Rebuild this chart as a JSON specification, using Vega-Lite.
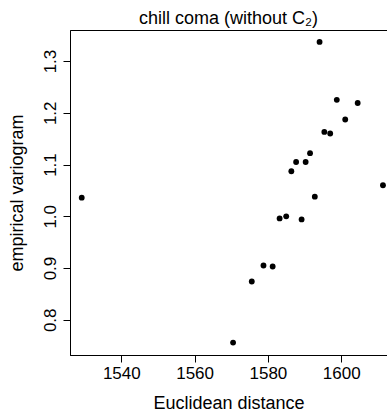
{
  "$schema": "https://vega.github.io/schema/vega-lite/v6.json",
  "width": 317,
  "height": 325,
  "autosize": {"type": "none"},
  "padding": {"left": 70, "top": 30, "right": 0, "bottom": 61},
  "background": "white",
  "config": {
    "view": {"stroke": "#000000", "strokeWidth": 1},
    "font": "Liberation Sans, DejaVu Sans",
    "axis": {
      "grid": false,
      "domainColor": "#000000",
      "domainWidth": 1,
      "tickColor": "#000000",
      "tickWidth": 1,
      "tickSize": 7,
      "labelColor": "#000000",
      "titleColor": "#000000",
      "labelFont": "Liberation Sans",
      "titleFont": "Liberation Sans",
      "labelFontSize": 17,
      "titleFontSize": 18,
      "titleFontWeight": "normal"
    }
  },
  "title": {
    "text": "chill coma (without C₂)",
    "font": "Liberation Sans, DejaVu Sans",
    "fontSize": 18,
    "fontWeight": "normal",
    "color": "#000000",
    "anchor": "middle",
    "baseline": "top",
    "offset": 2
  },
  "data": {
    "values": [
      {"distance": 1529.2, "variogram": 1.036},
      {"distance": 1570.5, "variogram": 0.756},
      {"distance": 1575.6, "variogram": 0.874},
      {"distance": 1578.8, "variogram": 0.905},
      {"distance": 1581.3, "variogram": 0.903},
      {"distance": 1583.2, "variogram": 0.996},
      {"distance": 1585.0, "variogram": 1.0},
      {"distance": 1586.4, "variogram": 1.087},
      {"distance": 1587.7, "variogram": 1.105},
      {"distance": 1589.2, "variogram": 0.994},
      {"distance": 1590.3, "variogram": 1.105},
      {"distance": 1591.5, "variogram": 1.122},
      {"distance": 1592.8, "variogram": 1.038},
      {"distance": 1594.1, "variogram": 1.337},
      {"distance": 1595.4, "variogram": 1.163},
      {"distance": 1597.0, "variogram": 1.160},
      {"distance": 1598.8, "variogram": 1.225},
      {"distance": 1601.1, "variogram": 1.187},
      {"distance": 1604.5, "variogram": 1.219},
      {"distance": 1611.4, "variogram": 1.060}
    ]
  },
  "mark": {"type": "point", "filled": true, "color": "#000000", "opacity": 1, "size": 34},
  "encoding": {
    "x": {
      "field": "distance",
      "type": "quantitative",
      "scale": {"domain": [1526, 1612.5], "nice": false, "zero": false},
      "axis": {
        "orient": "bottom",
        "title": "Euclidean distance",
        "values": [1540, 1560, 1580, 1600],
        "format": "d",
        "labelPadding": 3.5,
        "titlePadding": 13
      }
    },
    "y": {
      "field": "variogram",
      "type": "quantitative",
      "scale": {"domain": [0.732, 1.36], "nice": false, "zero": false},
      "axis": {
        "title": "empirical variogram",
        "values": [0.8, 0.9, 1.0, 1.1, 1.2, 1.3],
        "format": ".1f",
        "labelAngle": -90,
        "labelAlign": "center",
        "labelBaseline": "alphabetic",
        "labelPadding": 8,
        "titlePadding": 14.5
      }
    }
  }
}
